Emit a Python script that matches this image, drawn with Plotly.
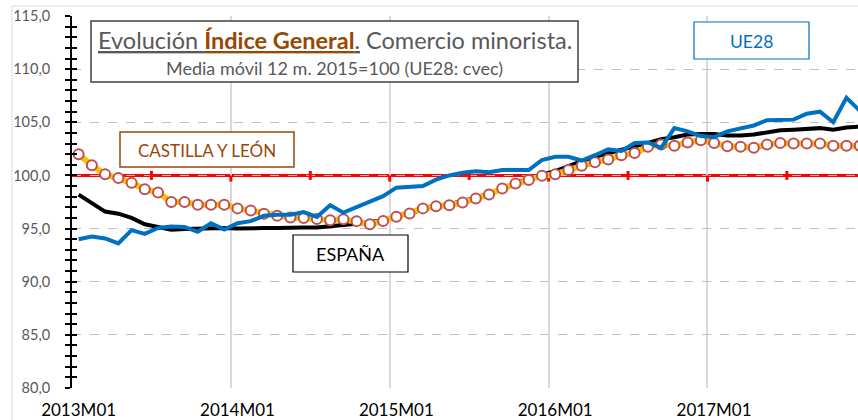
import plotly.graph_objects as go

# ---------------- data ----------------
years = [2013, 2014, 2015, 2016, 2017]
months = [f"{y}M{m:02d}" for y in years for m in range(1, 13)]
tick_labels = ["2013M01", "2014M01", "2015M01", "2016M01", "2017M01"]

castilla_leon = [102.0, 100.95, 100.1, 99.75, 99.3, 98.7, 98.4, 97.5, 97.5, 97.25, 97.25, 97.25,
                 96.9, 96.7, 96.4, 96.2, 96.05, 96.0, 95.9, 95.78, 95.88, 95.7, 95.4, 95.72,
                 96.12, 96.42, 96.9, 97.1, 97.2, 97.45, 97.82, 98.2, 98.78, 99.25, 99.58, 99.98,
                 100.1, 100.5, 100.9, 101.25, 101.5, 101.9, 102.1, 102.7, 102.9, 102.8, 103.1, 103.3,
                 103.05, 102.75, 102.7, 102.6, 102.9, 103.05, 103.0, 103.0, 103.0, 102.8, 102.8, 102.8]

espana = [98.2, 97.4, 96.6, 96.4, 96.0, 95.4, 95.15, 94.9, 94.95, 95.0, 95.0, 95.05,
          95.0, 95.05, 95.05, 95.05, 95.1, 95.1, 95.1, 95.2, 95.3, 95.45, 95.6, 95.8,
          96.1, 96.45, 96.8, 97.1, 97.3, 97.6, 97.9, 98.3, 98.8, 99.3, 99.7, 100.1,
          100.4, 100.9, 101.35, 101.75, 102.1, 102.4, 102.75, 103.05, 103.4, 103.6, 103.85, 103.9,
          103.9, 103.75, 103.75, 103.85, 104.05, 104.25, 104.3, 104.35, 104.45, 104.3, 104.5, 104.6]

ue28 = [94.0, 94.25, 94.07, 93.6, 94.85, 94.5, 95.05, 95.2, 95.15, 94.7, 95.5, 94.9,
        95.5, 95.7, 96.2, 96.3, 96.3, 96.55, 96.1, 97.2, 96.5, 97.05, 97.6, 98.05,
        98.85, 98.9, 99.0, 99.6, 100.0, 100.25, 100.4, 100.3, 100.5, 100.5, 100.5, 101.45,
        101.75, 101.75, 101.4, 101.9, 102.45, 102.3, 103.05, 103.1, 102.6, 104.45, 104.15, 103.7,
        103.6, 104.15, 104.45, 104.7, 105.2, 105.2, 105.25, 105.8, 106.0, 105.0, 107.3, 106.1]

base_index = 100.0
y_min, y_max = 80, 115

# ---------------- layout geometry ----------------
W, H = 858, 420
ML, MR, MT, MB = 72, 0, 16, 32
PW, PH = W - ML - MR, H - MT - MB
x_max = 58.87

def px_x(p):
    return (p - ML) / PW

def px_y(p):
    return (H - MB - p) / PH

FONT = "Lato"
GRAY = "#595959"
BROWN = "#974806"
BLUE = "#0070C0"

x = list(range(len(months)))

fig = go.Figure()

fig.add_trace(go.Scatter(x=x, y=espana, mode="lines", name="ESPAÑA",
                         line=dict(color="black", width=4), hoverinfo="skip"))
fig.add_trace(go.Scatter(x=x, y=castilla_leon, mode="lines+markers", name="CASTILLA Y LEÓN",
                         line=dict(color="#FFC000", width=6),
                         marker=dict(symbol="circle", size=10, color="white",
                                     line=dict(color="#C0504D", width=2)),
                         hoverinfo="skip"))
fig.add_trace(go.Scatter(x=x, y=ue28, mode="lines", name="UE28", yaxis="y2",
                         line=dict(color=BLUE, width=4), hoverinfo="skip"))

shapes = []
# reference line at base index
shapes.append(dict(type="line", xref="paper", yref="y", x0=0, x1=1, y0=base_index, y1=base_index,
                   line=dict(color="#FF0000", width=3), layer="between"))
# ticks on reference line
for k in range(len(months) // 6):
    xv = 6 * k + 5.5
    if (k % 2) == 0:
        y0, y1 = base_index - 0.42, base_index + 0.42
    else:
        y0, y1 = base_index - 0.58, base_index
    shapes.append(dict(type="line", xref="x", yref="y", x0=xv, x1=xv, y0=y0, y1=y1,
                       line=dict(color="#FF0000", width=3), layer="between"))

# outer chart border
shapes.append(dict(type="rect", xref="paper", yref="paper",
                   x0=px_x(12), x1=px_x(870), y0=px_y(440), y1=px_y(6),
                   line=dict(color="#D9D9D9", width=1), fillcolor="rgba(0,0,0,0)", layer="below"))

def box(x0, x1, y0, y1, color, width):
    shapes.append(dict(type="rect", xref="paper", yref="paper",
                       x0=px_x(x0), x1=px_x(x1), y0=px_y(y1), y1=px_y(y0),
                       line=dict(color=color, width=width), fillcolor="white", layer="above"))

box(91, 578, 21, 82, "#404040", 1.5)
box(694, 809, 22, 59, BLUE, 1.2)
box(120, 294, 132, 167, BROWN, 1.5)
box(293, 408, 235, 272, "black", 1.2)

annotations = []
def label(text, cx, cy, size, color):
    annotations.append(dict(text=text, xref="paper", yref="paper", x=px_x(cx), y=px_y(cy),
                            xanchor="center", yanchor="middle", showarrow=False,
                            font=dict(family=FONT, size=size, color=color)))

label("<u>Evolución </u><span style='color:%s'><b><u>Índice General</u></b></span><u>.</u> Comercio minorista." % BROWN,
      334.5, 40, 23.5, GRAY)
label("Media móvil 12 m. 2015=100 (UE28: cvec)", 334.5, 68, 18, GRAY)
label("UE28", 751.5, 41, 17.5, BLUE)
label("CASTILLA Y LEÓN", 207, 150, 17, BROWN)
label("ESPAÑA", 350, 254, 18, "black")

tick_vals = [months.index(t) for t in tick_labels]
grid_vals = [v - 0.5 for v in tick_vals[1:]]

fig.update_layout(
    width=W, height=H,
    margin=dict(l=ML, r=MR, t=MT, b=MB, pad=0, autoexpand=False),
    paper_bgcolor="white", plot_bgcolor="white",
    showlegend=False,
    separators=",.",
    shapes=shapes, annotations=annotations,
    xaxis=dict(range=[-0.5, x_max], tickmode="array", tickvals=tick_vals, ticktext=tick_labels,
               showgrid=False, zeroline=False, showline=False, ticks="", automargin=False,
               tickfont=dict(family=FONT, size=17, color="black"), ticklabelstandoff=10,
               minor=dict(tickmode="array", tickvals=grid_vals, showgrid=True,
                          gridcolor="#D9D9D9", gridwidth=1.5, ticks="")),
    yaxis=dict(range=[y_min, y_max], dtick=5, tick0=0, tickformat=".1f", automargin=False,
               showgrid=True, gridcolor="#BFBFBF", griddash="dash", gridwidth=1,
               zeroline=False, showline=True, linecolor="black", linewidth=2,
               ticks="outside", ticklen=5, tickwidth=1.5, tickcolor="black",
               tickfont=dict(family=FONT, size=14.5, color=GRAY), ticklabelstandoff=12,
               minor=dict(dtick=1, ticks="outside", ticklen=5, tickwidth=1.5,
                          tickcolor="black", showgrid=False)),
    yaxis2=dict(range=[y_min, y_max], overlaying="y", side="left", anchor="x", automargin=False,
                dtick=5, tick0=0, showgrid=False, zeroline=False, showline=False,
                ticks="inside", ticklen=5, tickwidth=1.5, tickcolor="black",
                showticklabels=False,
                minor=dict(dtick=1, ticks="inside", ticklen=5, tickwidth=1.5,
                           tickcolor="black", showgrid=False)),
)

fig.write_html("out.html", config={"displayModeBar": False},
               post_script="document.body.style.margin='0';document.body.style.overflow='hidden';")
